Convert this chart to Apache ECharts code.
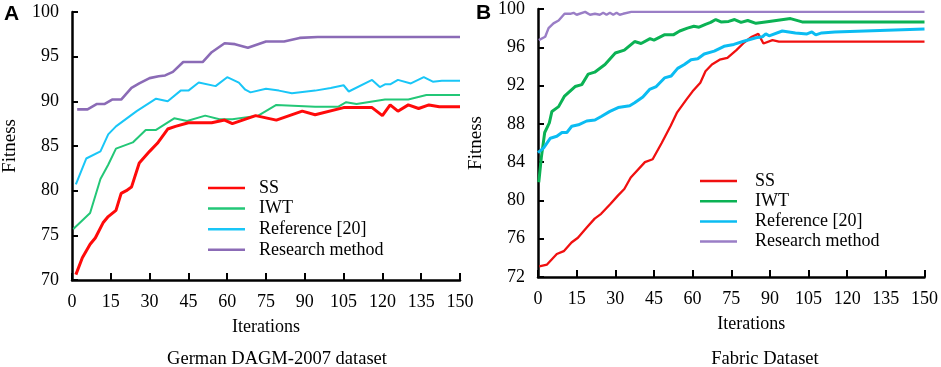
<!DOCTYPE html>
<html>
<head>
<meta charset="utf-8">
<script src="https://cdn.jsdelivr.net/npm/echarts@6/dist/echarts.min.js"></script>
<style>
html,body{margin:0;padding:0;background:#fff;}
#chart{width:941px;height:367px;}
</style>
</head>
<body>
<div id="chart"></div>
<script>
// ---- Data (iteration, fitness) ----
const seriesNames = ['SS', 'IWT', 'Reference [20]', 'Research method'];
const xTicks = [0, 15, 30, 45, 60, 75, 90, 105, 120, 135, 150];
const germanYTicks = [70, 75, 80, 85, 90, 95, 100];
const fabricYTicks = [72, 76, 80, 84, 88, 92, 96, 100];

const germanSS = [[1.5,70.6],[4,72.5],[7,74],[9,74.7],[12,76.4],[14,77.1],[17,77.8],[19,79.7],[21,80.0],[23,80.4],[26,83.1],[30,84.4],[33,85.3],[37,86.9],[40,87.2],[45,87.6],[54,87.6],[59,87.9],[62,87.5],[71,88.4],[79,87.9],[89,88.9],[94,88.5],[105,89.3],[116,89.3],[120,88.4],[123,89.6],[126,88.9],[130,89.6],[134,89.2],[138,89.6],[142,89.4],[150,89.4]];
const germanIWT = [[0.5,75.7],[7,77.5],[11,81.3],[14,82.9],[17,84.7],[23.5,85.4],[28.5,86.8],[32.5,86.8],[39.5,88.1],[44.5,87.8],[51.5,88.4],[57,88.0],[62,88.0],[72,88.4],[79,89.6],[94,89.4],[103,89.4],[106,89.9],[110,89.7],[121,90.2],[130,90.2],[137,90.7],[150,90.7]];
const germanRef = [[1.5,80.7],[5.5,83.6],[11,84.4],[14,86.3],[17,87.2],[25,88.9],[32.5,90.3],[37,90.0],[42,91.2],[45,91.2],[49,92.1],[55.5,91.7],[60,92.7],[64.5,92.1],[67,91.3],[69,91.0],[75,91.4],[80,91.2],[85,90.9],[94,91.2],[100,91.5],[105,91.8],[107,91.1],[116,92.4],[119,91.6],[121,91.9],[123,91.9],[126,92.4],[131,92.0],[136,92.7],[139.5,92.2],[143,92.3],[150,92.3]];
const germanResearch = [[2,89.1],[6,89.1],[9.5,89.7],[12.5,89.7],[15.5,90.2],[19,90.2],[23,91.5],[26,92.0],[30,92.6],[33.5,92.8],[36,92.9],[39,93.3],[43,94.4],[50.5,94.4],[54,95.5],[59,96.5],[63,96.4],[68,96.0],[75,96.7],[82,96.7],[88,97.1],[95,97.2],[150,97.2]];

const fabricSS = [[0.5,73.1],[3.5,73.3],[7.3,74.4],[10,74.7],[13,75.6],[15.5,76.1],[19,77.2],[22,78.1],[24.5,78.6],[28,79.6],[31,80.5],[33.5,81.2],[36,82.4],[41.5,84.0],[44.5,84.3],[48,86.0],[51.5,87.8],[54,89.2],[57.5,90.5],[60,91.4],[63,92.3],[65,93.5],[67.5,94.2],[70.5,94.7],[73.5,94.9],[77,95.7],[80,96.5],[83,97.1],[85.5,97.4],[87.5,96.4],[91,96.75],[93.5,96.6],[150,96.6]];
const fabricIWT = [[0.3,81.9],[1.3,84.5],[2.6,87.1],[4.4,88.1],[5.4,89.3],[8,89.8],[10.3,90.9],[14.4,91.9],[17,92.1],[19.5,93.2],[22,93.4],[26,94.2],[30,95.4],[33.5,95.7],[37.5,96.6],[40,96.4],[43.5,96.9],[45,96.75],[49,97.3],[52.5,97.3],[55,97.7],[58,98.0],[60.5,98.2],[62.5,98.1],[65,98.4],[67,98.6],[69,98.9],[71,98.65],[74,98.7],[76.3,98.9],[78.8,98.6],[81.4,98.8],[84.6,98.5],[89.7,98.7],[98,99.0],[102.5,98.65],[150,98.65]];
const fabricRef = [[0,85.0],[2.2,85.5],[4.8,86.5],[7.3,86.7],[9.3,87.1],[11.2,87.1],[13.1,87.75],[15.7,87.9],[18.9,88.3],[22.1,88.4],[24.7,88.8],[27.9,89.3],[31.1,89.7],[35.6,89.9],[37.5,90.2],[40.7,90.8],[43.3,91.6],[45.9,91.9],[49.1,92.8],[51.7,93.0],[54.2,93.8],[56.8,94.2],[59.4,94.7],[62,94.8],[64.5,95.3],[68.4,95.6],[72.2,96.1],[76,96.3],[79.5,96.6],[84.6,97.0],[87.1,97.1],[88.4,97.4],[89.7,97.2],[94.8,97.7],[99.9,97.5],[104.4,97.4],[106.3,97.6],[107.8,97.3],[110.1,97.5],[115.2,97.6],[150,97.9]];
const fabricResearch = [[0.3,96.75],[2.8,97.1],[4.1,98.0],[6,98.5],[8,98.8],[10.3,99.5],[12.5,99.5],[13.8,99.6],[15,99.4],[18.3,99.7],[20.2,99.4],[22.1,99.5],[24,99.4],[25.3,99.6],[26.6,99.4],[27.9,99.6],[29.2,99.4],[30.5,99.6],[31.7,99.4],[33,99.5],[36.2,99.7],[150,99.7]];

// ---- Styling ----
const FONT = '"Liberation Serif", "Times New Roman", serif';
const germanColors = ['#ff0a0a', '#23c777', '#19c6f7', '#8b6bb6'];
const fabricColors = ['#f01010', '#0bb254', '#0bbcf2', '#9a7ec6'];
const germanWidths = [3, 2, 2, 2.6];
const fabricWidths = [2.3, 3, 3, 2.4];

function xAxisCfg(gi, namePad) {
  return {
    type: 'value', gridIndex: gi, min: xTicks[0], max: xTicks[xTicks.length - 1], interval: 15,
    name: 'Iterations', nameLocation: 'middle', nameGap: 38,
    nameTextStyle: { fontFamily: FONT, fontSize: 18, color: '#000', padding: namePad },
    axisLine: { show: true, onZero: false, lineStyle: { color: '#000', width: 2.5 } },
    axisTick: { show: true, inside: true, length: 7, lineStyle: { color: '#000', width: 2 } },
    axisLabel: { fontFamily: FONT, fontSize: 18, color: '#000', margin: 13 },
    splitLine: { show: false }
  };
}
function yAxisCfg(gi, ticks, interval) {
  return {
    type: 'value', gridIndex: gi, min: ticks[0], max: ticks[ticks.length - 1], interval: interval,
    name: 'Fitness', nameLocation: 'middle', nameGap: 52,
    nameTextStyle: { fontFamily: FONT, fontSize: 19, color: '#000' },
    axisLine: { show: true, lineStyle: { color: '#000', width: 2.5 } },
    axisTick: { show: true, inside: true, length: 6, lineStyle: { color: '#000', width: 2 } },
    axisLabel: { fontFamily: FONT, fontSize: 18, color: '#000', margin: 13 },
    splitLine: { show: false }
  };
}

const series = [];
[germanSS, germanIWT, germanRef, germanResearch].forEach((d, i) => {
  series.push({ name: seriesNames[i], type: 'line', xAxisIndex: 0, yAxisIndex: 0, data: d,
    symbol: 'none', color: germanColors[i], lineStyle: { width: germanWidths[i], color: germanColors[i] }, z: 2 + (i === 0 ? 1 : 0) });
});
[fabricSS, fabricIWT, fabricRef, fabricResearch].forEach((d, i) => {
  series.push({ name: seriesNames[i], type: 'line', xAxisIndex: 1, yAxisIndex: 1, data: d,
    symbol: 'none', color: fabricColors[i], lineStyle: { width: fabricWidths[i], color: fabricColors[i] }, z: 2 });
});

function legendCfg(left, top, colors, gap, textPad) {
  return {
    orient: 'vertical', left: left, top: top, padding: 0, icon: 'rect', itemWidth: 37, itemHeight: 2.5, itemGap: gap,
    selectedMode: false,
    data: seriesNames.map((n, i) => ({ name: n, itemStyle: { color: colors[i] } })),
    textStyle: { fontFamily: FONT, fontSize: 18, color: '#000', padding: [0, 0, 0, textPad] }
  };
}

const option = {
  animation: false,
  backgroundColor: '#fff',
  grid: [
    { left: 71, top: 12, width: 389, height: 268 },
    { left: 538, top: 7, width: 389, height: 270 }
  ],
  xAxis: [xAxisCfg(0, [0, 0, 0, 0]), xAxisCfg(1, [0, 0, 0, 40])],
  yAxis: [yAxisCfg(0, germanYTicks, 5), yAxisCfg(1, fabricYTicks, 4)],
  legend: [legendCfg(208, 179, germanColors, 2.6, 9), legendCfg(700, 172, fabricColors, 2.2, 13)],
  graphic: [
    { type: 'text', left: 4, top: 4, style: { text: 'A', fontFamily: '"Liberation Sans", Arial, sans-serif', fontWeight: 'bold', fontSize: 21, fill: '#000' } },
    { type: 'text', left: 476, top: 3, style: { text: 'B', fontFamily: '"Liberation Sans", Arial, sans-serif', fontWeight: 'bold', fontSize: 21, fill: '#000' } },
    { type: 'text', x: 277, y: 359, style: { text: 'German DAGM-2007 dataset', fontFamily: FONT, fontSize: 18.5, fill: '#000', align: 'center', verticalAlign: 'middle' } },
    { type: 'text', x: 765, y: 359, style: { text: 'Fabric Dataset', fontFamily: FONT, fontSize: 18.5, fill: '#000', align: 'center', verticalAlign: 'middle' } }
  ],
  series: series
};

const chart = echarts.init(document.getElementById('chart'), null, { renderer: 'canvas' });
chart.setOption(option);
</script>
</body>
</html>
